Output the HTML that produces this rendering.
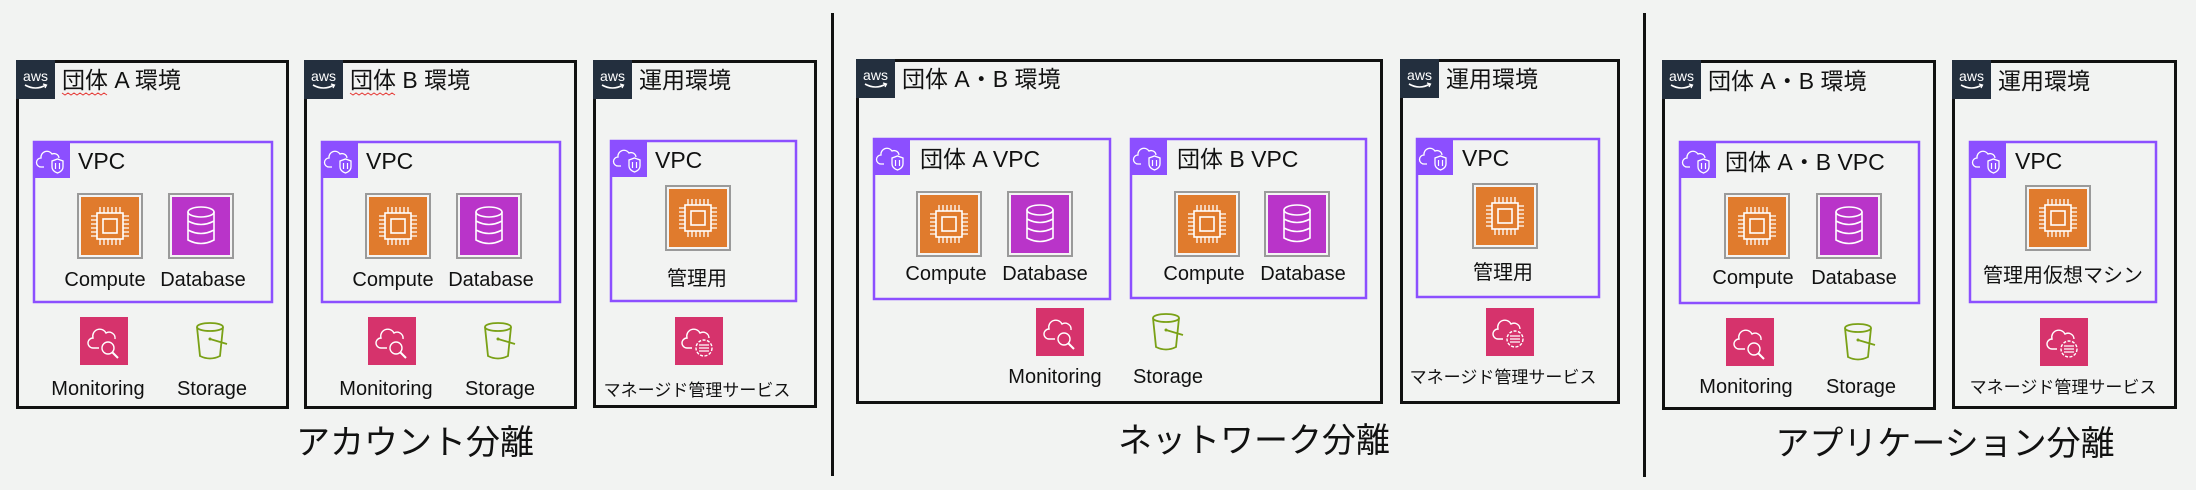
<!DOCTYPE html>
<html><head><meta charset="utf-8"><style>
html,body{margin:0;padding:0;background:#f2f3f2;}
svg{display:block}
text{font-family:"Liberation Sans","Noto Sans CJK JP",sans-serif;fill:#111}
</style></head><body>
<svg width="2196" height="490" viewBox="0 0 2196 490" xmlns="http://www.w3.org/2000/svg">
<defs>
<symbol id="aws" viewBox="0 0 39 39" width="39" height="39">
<rect width="39" height="39" fill="#232f3e"/>
<text x="19.5" y="21" text-anchor="middle" font-size="14" style="fill:#fff">aws</text>
<path d="M9 25 Q19.5 31 30 25" stroke="#fff" stroke-width="1.6" fill="none"/>
<path d="M27 24 L30.5 25 L29 28" stroke="#fff" stroke-width="1.3" fill="none"/>
</symbol>
<symbol id="vt" viewBox="0 0 37 37" width="37" height="37">
<rect width="37" height="37" fill="#8c4fff"/>
<path d="M11 26 H8 a4.5 4.5 0 0 1 0-9 a6 6 0 0 1 11-4 a5 5 0 0 1 7 4" stroke="#fff" stroke-width="1.3" fill="none"/>
<path d="M19 20 L24.5 18 L30 20 V26 Q30 30 24.5 32 Q19 30 19 26 Z" stroke="#fff" stroke-width="1.3" fill="none"/>
<path d="M22.5 22 V28 M26.5 22 V28" stroke="#fff" stroke-width="1.2"/>
</symbol>
<symbol id="cp" viewBox="0 0 66 66" width="66" height="66">
<rect x="1" y="1" width="64" height="64" fill="#f4f4f4" stroke="#9a9a9a" stroke-width="2"/>
<rect x="4" y="4" width="58" height="58" fill="#e07b2d"/>
<rect x="20" y="20" width="26" height="26" fill="none" stroke="#fff" stroke-width="1.6"/>
<rect x="26" y="26" width="14" height="14" fill="none" stroke="#fff" stroke-width="1.6"/>
<path d="M23 20V14M27 20V14M31 20V14M35 20V14M39 20V14M43 20V14M23 46V52M27 46V52M31 46V52M35 46V52M39 46V52M43 46V52M20 23H14M20 27H14M20 31H14M20 35H14M20 39H14M20 43H14M46 23H52M46 27H52M46 31H52M46 35H52M46 39H52M46 43H52" stroke="#fff" stroke-width="1.3"/>
</symbol>
<symbol id="db" viewBox="0 0 66 66" width="66" height="66">
<rect x="1" y="1" width="64" height="64" fill="#f4f4f4" stroke="#9a9a9a" stroke-width="2"/>
<rect x="4" y="4" width="58" height="58" fill="#b934c9"/>
<ellipse cx="33" cy="19" rx="13" ry="5" fill="none" stroke="#fff" stroke-width="1.6"/>
<path d="M20 19V47 Q33 54 46 47V19 M20 28 Q33 35 46 28 M20 37 Q33 44 46 37" fill="none" stroke="#fff" stroke-width="1.6"/>
</symbol>
<symbol id="mon" viewBox="0 0 48 48" width="48" height="48">
<rect width="48" height="48" fill="#d6336c"/>
<path d="M19 31 H13 a5 5 0 0 1 0-10 a7 7 0 0 1 13-5 a6 6 0 0 1 9 6" stroke="#fff" stroke-width="1.4" fill="none"/>
<circle cx="28" cy="31" r="6" fill="none" stroke="#fff" stroke-width="1.4"/>
<path d="M32 35 L38 41" stroke="#fff" stroke-width="2"/>
</symbol>
<symbol id="svc" viewBox="0 0 48 48" width="48" height="48">
<rect width="48" height="48" fill="#d6336c"/>
<path d="M17 31 H12 a5 5 0 0 1 0-10 a7 7 0 0 1 13-5 a6 6 0 0 1 9 5" stroke="#fff" stroke-width="1.4" fill="none"/>
<circle cx="29" cy="31" r="8" fill="none" stroke="#fff" stroke-width="1.4" stroke-dasharray="3 1.5"/>
<path d="M24 28H34M24 31H34M24 34H34" stroke="#fff" stroke-width="1.2"/>
</symbol>
<symbol id="bk" viewBox="0 0 38 40" width="38" height="40">
<ellipse cx="17" cy="6" rx="13" ry="4" fill="none" stroke="#7aa116" stroke-width="1.8"/>
<path d="M4 6 L7 35 Q17 40 27 35 L30 6" fill="none" stroke="#7aa116" stroke-width="1.8"/>
<path d="M17 18 L34 23" stroke="#7aa116" stroke-width="1.8"/>
<circle cx="17" cy="18" r="1.5" fill="#7aa116"/>
</symbol>
</defs>

<!-- dividers -->
<rect x="831" y="13" width="3" height="463" fill="#111"/>
<rect x="1643" y="13" width="3" height="464" fill="#111"/>

<g stroke-width="3" fill="none" stroke="#111">
<rect x="17.5" y="61.5" width="270" height="346"/>
<rect x="305.5" y="61.5" width="270" height="346"/>
<rect x="594.5" y="61.5" width="221" height="345"/>
<rect x="857.5" y="60.5" width="524" height="342"/>
<rect x="1401.5" y="60.5" width="217" height="342"/>
<rect x="1663.5" y="61.5" width="271" height="347"/>
<rect x="1953.5" y="61.5" width="222" height="346"/>
</g>
<g stroke-width="2.5" fill="none" stroke="#8c4fff">
<rect x="34" y="142" width="238" height="160"/>
<rect x="322" y="142" width="238" height="160"/>
<rect x="611" y="141" width="185" height="160"/>
<rect x="874" y="139" width="236" height="160"/>
<rect x="1131" y="139" width="235" height="159"/>
<rect x="1417" y="139" width="182" height="158"/>
<rect x="1680" y="142" width="239" height="161"/>
<rect x="1970" y="142" width="186" height="160"/>
</g>

<!-- tabs -->
<use href="#aws" x="16" y="60"/><use href="#aws" x="304" y="60"/><use href="#aws" x="593" y="60"/>
<use href="#aws" x="856" y="59"/><use href="#aws" x="1400" y="59"/>
<use href="#aws" x="1662" y="60"/><use href="#aws" x="1952" y="60"/>
<use href="#vt" x="33" y="141"/><use href="#vt" x="321" y="141"/><use href="#vt" x="610" y="140"/>
<use href="#vt" x="873" y="138"/><use href="#vt" x="1130" y="138"/><use href="#vt" x="1416" y="138"/>
<use href="#vt" x="1679" y="141"/><use href="#vt" x="1969" y="141"/>

<!-- icons -->
<use href="#cp" x="77" y="193"/><use href="#db" x="168" y="193"/>
<use href="#cp" x="365" y="193"/><use href="#db" x="456" y="193"/>
<use href="#cp" x="665" y="185"/>
<use href="#cp" x="916" y="191"/><use href="#db" x="1007" y="191"/>
<use href="#cp" x="1174" y="191"/><use href="#db" x="1264" y="191"/>
<use href="#cp" x="1472" y="183"/>
<use href="#cp" x="1724" y="193"/><use href="#db" x="1816" y="193"/>
<use href="#cp" x="2025" y="185"/>
<use href="#mon" x="80" y="317"/><use href="#bk" x="193" y="321"/>
<use href="#mon" x="368" y="317"/><use href="#bk" x="481" y="321"/>
<use href="#svc" x="675" y="317"/>
<use href="#mon" x="1036" y="308"/><use href="#bk" x="1149" y="312"/>
<use href="#svc" x="1486" y="308"/>
<use href="#mon" x="1726" y="318"/><use href="#bk" x="1841" y="322"/>
<use href="#svc" x="2040" y="318"/>

<!-- squiggles -->
<path d="M62 93 l3 2 3-2 3 2 3-2 3 2 3-2 3 2 3-2 3 2 3-2 3 2 3-2 3 2 3-2 3 2" stroke="#e53935" stroke-width="1" fill="none"/>
<path d="M350 93 l3 2 3-2 3 2 3-2 3 2 3-2 3 2 3-2 3 2 3-2 3 2 3-2 3 2 3-2 3 2" stroke="#e53935" stroke-width="1" fill="none"/>

<!-- headers -->
<g font-size="23">
<text x="62" y="88">団体 A 環境</text>
<text x="350" y="88">団体 B 環境</text>
<text x="639" y="88">運用環境</text>
<text x="902" y="87">団体 A・B 環境</text>
<text x="1446" y="87">運用環境</text>
<text x="1708" y="89">団体 A・B 環境</text>
<text x="1998" y="89">運用環境</text>
<text x="78" y="169">VPC</text>
<text x="366" y="169">VPC</text>
<text x="655" y="168">VPC</text>
<text x="920" y="167">団体 A VPC</text>
<text x="1177" y="167">団体 B VPC</text>
<text x="1462" y="166">VPC</text>
<text x="1725" y="170">団体 A・B VPC</text>
<text x="2015" y="169">VPC</text>
</g>

<g font-size="20" text-anchor="middle">
<text x="105" y="286">Compute</text><text x="203" y="286">Database</text>
<text x="393" y="286">Compute</text><text x="491" y="286">Database</text>
<text x="697" y="285">管理用</text>
<text x="946" y="280">Compute</text><text x="1045" y="280">Database</text>
<text x="1204" y="280">Compute</text><text x="1303" y="280">Database</text>
<text x="1503" y="279">管理用</text>
<text x="1753" y="284">Compute</text><text x="1854" y="284">Database</text>
<text x="2063" y="282">管理用仮想マシン</text>
<text x="98" y="395">Monitoring</text><text x="212" y="395">Storage</text>
<text x="386" y="395">Monitoring</text><text x="500" y="395">Storage</text>
<text x="1055" y="383">Monitoring</text><text x="1168" y="383">Storage</text>
<text x="1746" y="393">Monitoring</text><text x="1861" y="393">Storage</text>
</g>
<g font-size="17" text-anchor="middle">
<text x="697" y="396">マネージド管理サービス</text>
<text x="1503" y="383">マネージド管理サービス</text>
<text x="2063" y="393">マネージド管理サービス</text>
</g>
<g font-size="34" text-anchor="middle">
<text x="415" y="454">アカウント分離</text>
<text x="1254" y="452">ネットワーク分離</text>
<text x="1945" y="455">アプリケーション分離</text>
</g>
</svg>
</body></html>
